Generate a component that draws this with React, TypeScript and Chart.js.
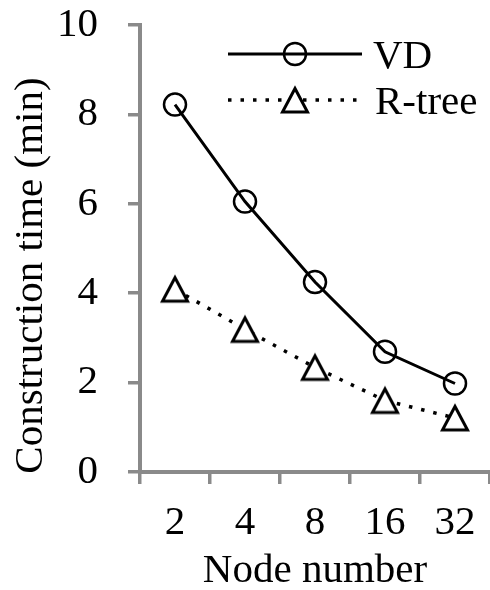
import React, { useEffect, useRef } from "react";
import { Chart, registerables } from "chart.js";

Chart.register(...registerables);

const categories = ["2", "4", "8", "16", "32"];
const vdValues = [8.22, 6.05, 4.25, 2.69, 1.98];
const rtreeValues = [4.09, 3.19, 2.34, 1.6, 1.21];
const seriesNames = ["VD", "R-tree"];
const xTitle = "Node number";
const yTitle = "Construction time (min)";
const yMin = 0;
const yMax = 10;
const yStep = 2;

const FONT = "'Liberation Serif', 'Times New Roman', serif";
const FS = 41;
const AXIS_GRAY = "#8a8a8a";

function makeTriangle(): HTMLCanvasElement {
  const c = document.createElement("canvas");
  c.width = 32;
  c.height = 32;
  const ctx = c.getContext("2d")!;
  ctx.beginPath();
  ctx.moveTo(16, 4.5);
  ctx.lineTo(3.5, 28);
  ctx.lineTo(28.5, 28);
  ctx.closePath();
  ctx.fillStyle = "#ffffff";
  ctx.fill();
  ctx.lineWidth = 3;
  ctx.lineJoin = "miter";
  ctx.strokeStyle = "#000000";
  ctx.stroke();
  return c;
}

function zeroPad(s: any) {
  s.paddingTop = 0;
  s.paddingBottom = 0;
  s.paddingLeft = 0;
  s.paddingRight = 0;
}

export default function App() {
  const ref = useRef<HTMLCanvasElement | null>(null);

  useEffect(() => {
    if (!ref.current) return;
    const tri = makeTriangle();

    const overlay = {
      id: "overlay",
      afterDraw(chart: any) {
        const ctx: CanvasRenderingContext2D = chart.ctx;
        ctx.save();
        // legend: VD
        ctx.strokeStyle = "#000";
        ctx.lineWidth = 3;
        ctx.setLineDash([]);
        ctx.beginPath();
        ctx.moveTo(228, 54);
        ctx.lineTo(362, 54);
        ctx.stroke();
        ctx.lineWidth = 2.5;
        ctx.beginPath();
        ctx.arc(295, 54, 11, 0, Math.PI * 2);
        ctx.stroke();
        // legend: R-tree
        ctx.lineWidth = 3.5;
        ctx.setLineDash([3.5, 9]);
        ctx.beginPath();
        ctx.moveTo(228, 100);
        ctx.lineTo(362, 100);
        ctx.stroke();
        ctx.setLineDash([]);
        ctx.drawImage(tri, 295 - 16, 100 - 16);
        ctx.fillStyle = "#000";
        ctx.font = `${FS}px ${FONT}`;
        ctx.textAlign = "left";
        ctx.textBaseline = "alphabetic";
        ctx.fillText(seriesNames[0], 373, 68);
        ctx.fillText(seriesNames[1], 375, 114);
        // y title
        ctx.translate(42, 275.5);
        ctx.rotate(-Math.PI / 2);
        ctx.textAlign = "center";
        ctx.fillText(yTitle, 0, 0);
        ctx.restore();
      },
    };

    const chart = new Chart(ref.current, {
      type: "line",
      data: {
        labels: categories,
        datasets: [
          {
            label: seriesNames[0],
            data: vdValues,
            borderColor: "#000",
            borderWidth: 3,
            tension: 0,
            pointStyle: "circle",
            pointRadius: 11,
            pointBorderWidth: 2.5,
            pointBorderColor: "#000",
            pointBackgroundColor: "rgba(0,0,0,0)",
          },
          {
            label: seriesNames[1],
            data: rtreeValues,
            borderColor: "#000",
            borderWidth: 3.5,
            borderDash: [3.5, 9],
            tension: 0,
            pointStyle: tri,
            pointRadius: 14,
          },
        ],
      },
      plugins: [overlay],
      options: {
        responsive: false,
        animation: false,
        layout: { autoPadding: false, padding: { top: 25, right: 0, left: 0, bottom: 0 } },
        plugins: {
          legend: { display: false },
          tooltip: { enabled: false },
        },
        scales: {
          x: {
            offset: true,
            grid: {
              offset: true,
              drawOnChartArea: false,
              drawTicks: true,
              tickLength: 12,
              color: AXIS_GRAY,
              lineWidth: 3.5,
            },
            border: { display: true, color: AXIS_GRAY, width: 4 },
            ticks: {
              color: "#000",
              font: { family: FONT, size: FS },
              padding: 15,
              maxRotation: 0,
            },
            title: {
              display: true,
              text: xTitle,
              color: "#000",
              font: { family: FONT, size: FS },
              padding: { top: 0, bottom: -6 },
            },
            afterFit: (s: any) => {
              s.height = 118;
              zeroPad(s);
            },
          },
          y: {
            min: yMin,
            max: yMax,
            grid: {
              drawOnChartArea: false,
              drawTicks: true,
              tickLength: 12,
              color: AXIS_GRAY,
              lineWidth: 3.5,
            },
            border: { display: true, color: AXIS_GRAY, width: 4 },
            ticks: {
              stepSize: yStep,
              color: "#000",
              font: { family: FONT, size: FS },
              padding: 30,
            },
            afterFit: (s: any) => {
              s.width = 140;
              zeroPad(s);
            },
          },
        },
      },
    });
    return () => chart.destroy();
  }, []);

  return (
    <div style={{ position: "fixed", left: 0, top: 0, width: 490, height: 590, background: "#fff" }}>
      <canvas ref={ref} width={490} height={590} style={{ width: 490, height: 590, display: "block" }} />
    </div>
  );
}
